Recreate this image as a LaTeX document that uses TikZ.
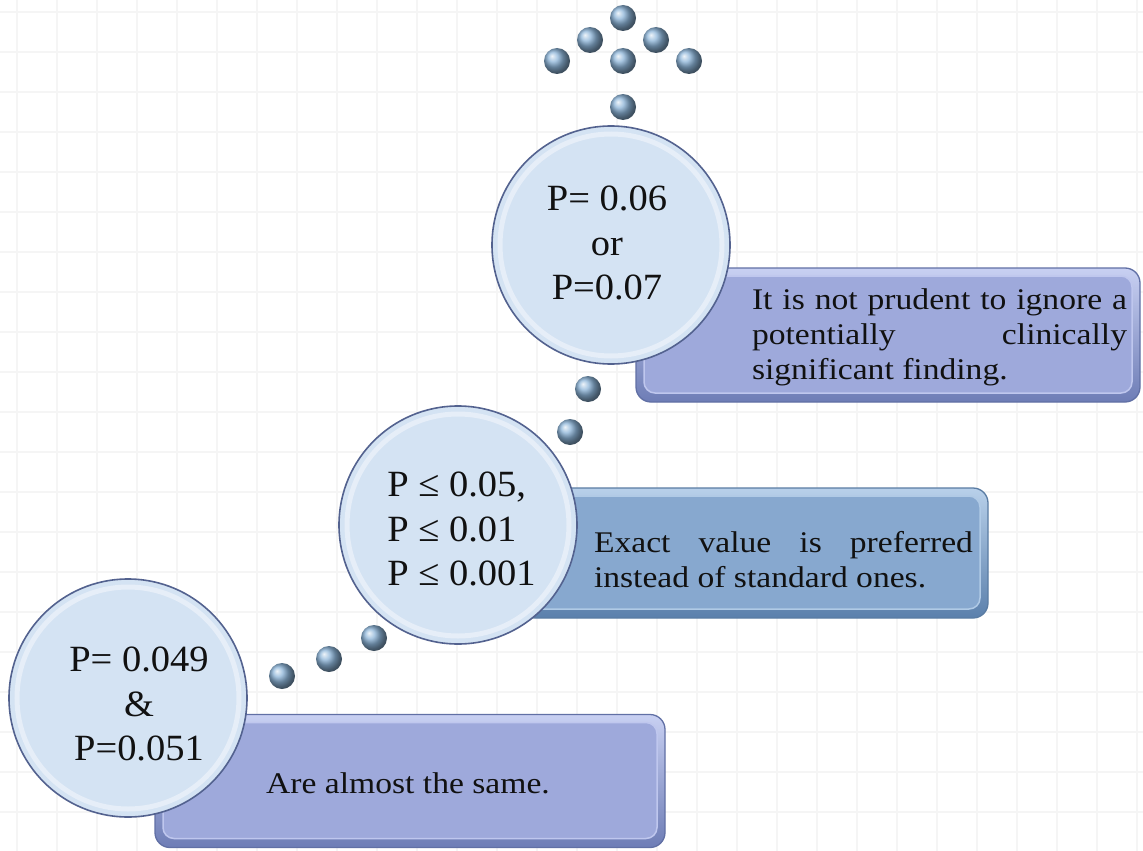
\documentclass[tikz,border=0pt]{standalone}
\usepackage{fontspec}
\setmainfont{Liberation Serif}
\newfontfamily\boxfont[FakeStretch=1.12]{Liberation Serif}
\newfontfamily\circfont[FakeStretch=1.04]{Liberation Serif}
\definecolor{gridc}{HTML}{F5F5F5}
\definecolor{circFill}{HTML}{D4E3F3}
\definecolor{circRing}{HTML}{E6EEF8}
\definecolor{circEdge}{HTML}{53628F}
\definecolor{lavTop}{HTML}{C8D0F2}
\definecolor{lavBot}{HTML}{6E7DB6}
\definecolor{lavEdge}{HTML}{6170A5}
\definecolor{lavIn}{HTML}{9EA9DB}
\definecolor{lavLine}{HTML}{BFC7EE}
\definecolor{bluTop}{HTML}{B8D0EA}
\definecolor{bluBot}{HTML}{5B80AC}
\definecolor{bluEdge}{HTML}{5A7CA3}
\definecolor{bluIn}{HTML}{87A8CF}
\definecolor{bluLine}{HTML}{B0CAE6}
\definecolor{sphC}{HTML}{8CB4D8}
\definecolor{txt}{HTML}{111111}
\tikzset{
  lavbox/.style={rectangle, rounded corners=15pt, draw=lavEdge, line width=1.3pt,
    top color=lavTop, bottom color=lavBot, inner sep=0pt,
    path picture={\draw[rounded corners=11pt, fill=lavIn, draw=lavLine, line width=1.5pt]
      ([xshift=8pt,yshift=-8pt]path picture bounding box.north west) rectangle
      ([xshift=-8pt,yshift=9pt]path picture bounding box.south east);}},
  blubox/.style={rectangle, rounded corners=15pt, draw=bluEdge, line width=1.3pt,
    top color=bluTop, bottom color=bluBot, inner sep=0pt,
    path picture={\draw[rounded corners=11pt, fill=bluIn, draw=bluLine, line width=1.5pt]
      ([xshift=8pt,yshift=-8pt]path picture bounding box.north west) rectangle
      ([xshift=-8pt,yshift=9pt]path picture bounding box.south east);}},
  bigcirc/.style={circle, minimum size=238pt, inner sep=0pt, fill=circFill,
    draw=circEdge, line width=1.6pt,
    path picture={\draw[circRing, line width=5pt]
      (path picture bounding box.center) circle[radius=111pt];}},
  circtext/.style={text=txt, font=\circfont\fontsize{37}{44.5}\selectfont, inner sep=0pt},
  boxtext/.style={text=txt, font=\boxfont\fontsize{30}{35}\selectfont, inner sep=0pt},
  sphere/.style={circle, minimum size=26pt, inner sep=0pt, shading=ball, ball color=sphC}
}
\begin{document}
\begin{tikzpicture}[x=1pt,y=-1pt]
\useasboundingbox (0,0) rectangle (1143,851);
\fill[white] (0,0) rectangle (1143,851);
\foreach \gx in {17,57,...,1143} \draw[gridc, line width=1.6pt] (\gx,0) -- (\gx,851);
\foreach \gy in {12,52,...,851} \draw[gridc, line width=1.6pt] (0,\gy) -- (1143,\gy);

% boxes
\node[lavbox, minimum width=504pt, minimum height=134pt] (b1) at (888,335) {};
\node[blubox, minimum width=468pt, minimum height=130pt] (b2) at (754,553) {};
\node[lavbox, minimum width=510pt, minimum height=133pt] (b3) at (410,781) {};

\node[boxtext] (t1) at (939.5,337) {\parbox{375pt}{It is not prudent to ignore a\linebreak potentially clinically\linebreak significant finding.}};
\node[boxtext] (t2) at (783.5,560) {\parbox{379pt}{Exact value is preferred\linebreak instead of standard ones.}};
\node[boxtext] (t3) at (408,783) {Are almost the same.};

% circles
\node[bigcirc] (c1) at (611,245) {};
\node[bigcirc] (c2) at (458,525) {};
\node[bigcirc] (c3) at (128,698) {};

\node[circtext, align=center] (l1) at (607,243) {P= 0.06\\or\\P=0.07};
\node[circtext, align=left] (l2) at (461.5,529) {P ≤ 0.05,\\P ≤ 0.01\\P ≤ 0.001};
\node[circtext, align=center] (l3) at (139,704) {P= 0.049\\\&\\P=0.051};

% spheres
\node[sphere] (d1) at (623,18) {};
\node[sphere] (d2) at (590,40) {};
\node[sphere] (d3) at (656,40) {};
\node[sphere] (d4) at (557,61) {};
\node[sphere] (d5) at (623,61) {};
\node[sphere] (d6) at (689,61) {};
\node[sphere] (d7) at (623,107) {};
\node[sphere] (d8) at (588,389) {};
\node[sphere] (d9) at (570,432) {};
\node[sphere] (d10) at (374,638) {};
\node[sphere] (d11) at (329,659) {};
\node[sphere] (d12) at (282,676) {};
\end{tikzpicture}
\end{document}
